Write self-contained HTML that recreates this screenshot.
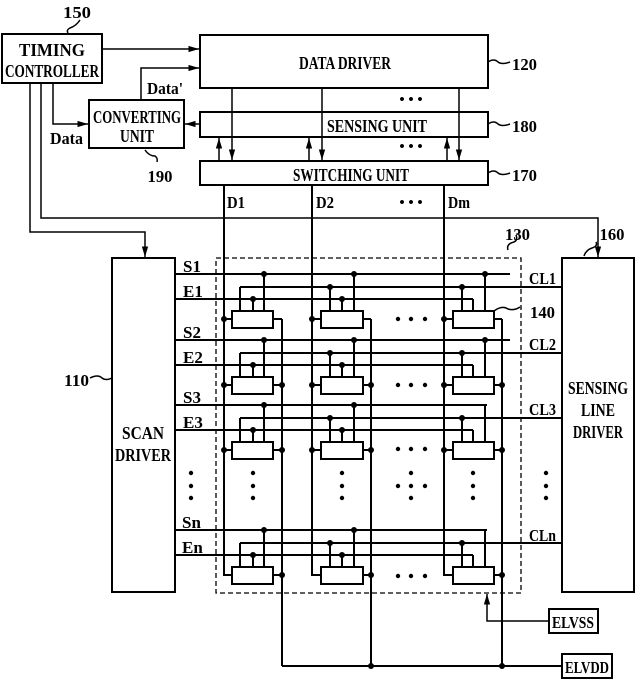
<!DOCTYPE html>
<html><head><meta charset="utf-8"><style>
html,body{margin:0;padding:0;background:#fff;}
svg{display:block;}
text{font-family:"Liberation Serif",serif;font-weight:bold;fill:#000;}
</style></head><body>
<svg id="s" width="642" height="681" viewBox="0 0 642 681" xmlns="http://www.w3.org/2000/svg">
<defs><marker id="a" viewBox="0 0 10 10" refX="10" refY="5" markerWidth="7" markerHeight="7" orient="auto"><path d="M0,2 L10,5 L0,8 z" fill="#000"/></marker></defs>
<g fill="none" stroke="#000" stroke-width="2">
<rect x="2" y="34" width="100" height="49"/>
<rect x="200" y="35" width="288" height="53"/>
<rect x="89" y="100" width="95" height="48"/>
<rect x="200" y="112" width="288" height="25"/>
<rect x="200" y="161" width="288" height="24"/>
<rect x="112" y="258" width="63" height="334"/>
<rect x="562" y="258" width="72" height="334"/>
<rect x="549" y="609" width="49" height="24"/>
<rect x="562" y="654" width="50" height="24"/>
</g>
<g fill="none" stroke="#000" stroke-width="1.5">
<path d="M102,49 H199" marker-end="url(#a)"/>
<path d="M141,100 V68 H199" marker-end="url(#a)"/>
<path d="M53,83 V124 H88" marker-end="url(#a)"/>
<path d="M200,124 H185" marker-end="url(#a)"/>
<path d="M30,83 V232 H145 V257" marker-end="url(#a)"/>
<path d="M41,83 V218 H598 V257" marker-end="url(#a)"/>
<path d="M232,88 V160" marker-end="url(#a)"/>
<path d="M322,88 V160" marker-end="url(#a)"/>
<path d="M459,88 V160" marker-end="url(#a)"/>
<path d="M219,161 V138" marker-end="url(#a)"/>
<path d="M309,161 V138" marker-end="url(#a)"/>
<path d="M447,161 V138" marker-end="url(#a)"/>
<path d="M549,621 H487 V594" marker-end="url(#a)"/>
<path d="M80,20 q-4,6 -10,8 q-4,2 -2,5"/>
<path d="M488,62 q6,-4 10,0 q4,3 12,0"/>
<path d="M488,124 q6,-4 10,0 q4,3 12,0"/>
<path d="M488,173 q6,-4 10,0 q4,3 12,0"/>
<path d="M145,150 q4,6 10,6 q3,2 2,6"/>
<path d="M90,378 q8,-4 12,0 q4,3 10,0"/>
<path d="M494,311 q8,-6 14,-2 q6,2 12,-2"/>
<path d="M508,250 q-2,-6 6,-8 q4,-2 2,-7"/>
<path d="M584,256 q2,-6 8,-8 q6,-2 4,-6"/>
</g>
<rect x="216" y="258" width="305" height="335" fill="none" stroke="#000" stroke-width="1.3" stroke-dasharray="5,3"/>
<g id="grid" stroke="#000" stroke-width="2" fill="none"></g>
<g id="dots" fill="#000"></g>
<g font-size="17">
<text x="77" y="18" text-anchor="middle" textLength="28" lengthAdjust="spacingAndGlyphs">150</text>
<text x="52" y="56" text-anchor="middle" font-size="18" textLength="66" lengthAdjust="spacingAndGlyphs">TIMING</text>
<text x="52" y="77" text-anchor="middle" font-size="18" textLength="94" lengthAdjust="spacingAndGlyphs">CONTROLLER</text>
<text x="345" y="69" text-anchor="middle" font-size="18" textLength="92" lengthAdjust="spacingAndGlyphs">DATA DRIVER</text>
<text x="147" y="94" textLength="36" lengthAdjust="spacingAndGlyphs">Data'</text>
<text x="50" y="144" textLength="33" lengthAdjust="spacingAndGlyphs">Data</text>
<text x="137" y="123" text-anchor="middle" font-size="18" textLength="88" lengthAdjust="spacingAndGlyphs">CONVERTING</text>
<text x="137" y="142" text-anchor="middle" font-size="18" textLength="34" lengthAdjust="spacingAndGlyphs">UNIT</text>
<text x="160" y="182" text-anchor="middle" textLength="25" lengthAdjust="spacingAndGlyphs">190</text>
<text x="377" y="132" text-anchor="middle" font-size="18" textLength="100" lengthAdjust="spacingAndGlyphs">SENSING UNIT</text>
<text x="351" y="181" text-anchor="middle" font-size="18" textLength="116" lengthAdjust="spacingAndGlyphs">SWITCHING UNIT</text>
<text x="512" y="70" textLength="25" lengthAdjust="spacingAndGlyphs">120</text>
<text x="512" y="132" textLength="25" lengthAdjust="spacingAndGlyphs">180</text>
<text x="512" y="181" textLength="25" lengthAdjust="spacingAndGlyphs">170</text>
<text x="227" y="208" textLength="18" lengthAdjust="spacingAndGlyphs">D1</text>
<text x="316" y="208" textLength="18" lengthAdjust="spacingAndGlyphs">D2</text>
<text x="448" y="208" textLength="22" lengthAdjust="spacingAndGlyphs">Dm</text>
<text x="411" y="207" text-anchor="middle" font-size="15">• • •</text>
<text x="411" y="104" text-anchor="middle" font-size="15">• • •</text>
<text x="411" y="151" text-anchor="middle" font-size="15">• • •</text>
<text x="505" y="240" textLength="25" lengthAdjust="spacingAndGlyphs">130</text>
<text x="612" y="240" text-anchor="middle" textLength="25" lengthAdjust="spacingAndGlyphs">160</text>
<text x="530" y="318" textLength="25" lengthAdjust="spacingAndGlyphs">140</text>
<text x="64" y="386" textLength="25" lengthAdjust="spacingAndGlyphs">110</text>
<text x="143" y="439" text-anchor="middle" font-size="18" textLength="42" lengthAdjust="spacingAndGlyphs">SCAN</text>
<text x="143" y="461" text-anchor="middle" font-size="18" textLength="56" lengthAdjust="spacingAndGlyphs">DRIVER</text>
<text x="598" y="394" text-anchor="middle" font-size="18" textLength="60" lengthAdjust="spacingAndGlyphs">SENSING</text>
<text x="598" y="416" text-anchor="middle" font-size="18" textLength="34" lengthAdjust="spacingAndGlyphs">LINE</text>
<text x="598" y="438" text-anchor="middle" font-size="18" textLength="50" lengthAdjust="spacingAndGlyphs">DRIVER</text>
<text x="183" y="272">S1</text><text x="183" y="297">E1</text>
<text x="183" y="338">S2</text><text x="183" y="363">E2</text>
<text x="183" y="403">S3</text><text x="183" y="428">E3</text>
<text x="182" y="528">Sn</text><text x="182" y="553">En</text>
<text x="529" y="284" textLength="27" lengthAdjust="spacingAndGlyphs">CL1</text><text x="529" y="350" textLength="27" lengthAdjust="spacingAndGlyphs">CL2</text>
<text x="529" y="415" textLength="27" lengthAdjust="spacingAndGlyphs">CL3</text><text x="529" y="541" textLength="27" lengthAdjust="spacingAndGlyphs">CLn</text>
<text x="573" y="628" text-anchor="middle" textLength="42" lengthAdjust="spacingAndGlyphs">ELVSS</text>
<text x="587" y="673" text-anchor="middle" textLength="44" lengthAdjust="spacingAndGlyphs">ELVDD</text>
</g>
</svg>
<script>
var NS="http://www.w3.org/2000/svg",G=document.getElementById("grid"),Dt=document.getElementById("dots");
function L(x1,y1,x2,y2){var e=document.createElementNS(NS,"line");e.setAttribute("x1",x1);e.setAttribute("y1",y1);e.setAttribute("x2",x2);e.setAttribute("y2",y2);G.appendChild(e);}
function R(x,y,w,h){var e=document.createElementNS(NS,"rect");e.setAttribute("x",x);e.setAttribute("y",y);e.setAttribute("width",w);e.setAttribute("height",h);G.appendChild(e);}
function C(x,y,r){var e=document.createElementNS(NS,"circle");e.setAttribute("cx",x);e.setAttribute("cy",y);e.setAttribute("r",r||3);Dt.appendChild(e);}
var D=[224,312,444],BL=[232,321,453],BR=[273,363,494],CX=[240,330,462],EX=[253,342,473],SX=[264,354,485],V=[282,371,502];
var S=[274,340,405,530];
for(var c=0;c<3;c++){L(D[c],185,D[c],576);L(V[c],319,V[c],666);}
L(282,666,562,666);C(371,666);C(502,666);
S.forEach(function(s,r){
 var cl=s+13,e=s+25,bt=s+37,bb=s+54,m=s+45,last=(r==3);
 var send=(r<2)?510:487;
 L(175,s,send,s);L(240,cl,562,cl);L(175,e,473,e);
 for(var c=0;c<3;c++){
  R(BL[c],bt,BR[c]-BL[c],bb-bt);
  L(SX[c],s,SX[c],bt);L(EX[c],e,EX[c],bt);L(CX[c],cl,CX[c],bt);
  if(c<2||r<2)C(SX[c],s);
  if(c<2)C(EX[c],e);
  if(c>0)C(CX[c],cl);
  L(D[c],m,BL[c],m);if(!last)C(D[c],m);
  L(BR[c],m,V[c],m);if(r>0)C(V[c],m);
 }
});
[473,486,498].forEach(function(y){[253,342,473,191,546].forEach(function(x){C(x,y,2.2);});});
C(398,486,2.2);C(425,486,2.2);C(411,473,2.2);C(411,498,2.2);C(411,486,2.2);
[319,385,449,576].forEach(function(y){[398,411,425].forEach(function(x){C(x,y,2.2);});});
</script>
</body></html>
